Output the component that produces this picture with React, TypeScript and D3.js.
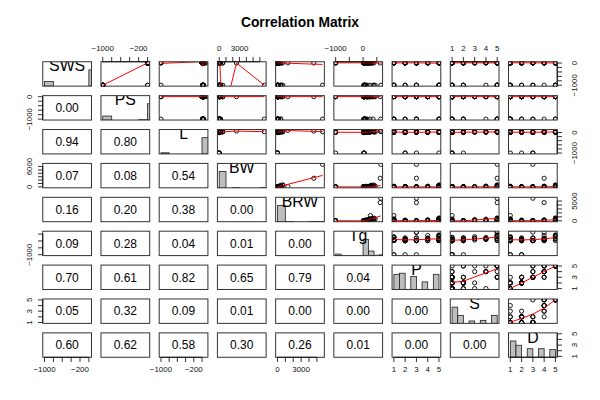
import React from "react";
import * as d3 from "d3";

const NA = -999;

const SWS = [NA,6.3,NA,NA,2.1,9.1,15.8,5.2,10.9,8.3,11.0,3.2,7.6,NA,6.3,8.6,6.6,9.5,4.8,12.0,NA,3.3,11.0,NA,4.7,NA,10.4,7.4,2.1,NA,NA,7.7,17.9,6.1,8.2,8.4,11.9,10.8,13.8,14.3,NA,15.2,10.0,11.9,6.5,7.5,NA,10.6,7.4,8.4,5.7,4.9,NA,3.2,NA,8.1,11.0,4.9,13.2,9.7,12.8,NA];
const PS = [NA,2.0,NA,NA,1.8,0.7,3.9,1.0,3.6,1.4,1.5,0.7,2.7,NA,2.1,0.0,4.1,1.2,1.3,6.1,0.3,0.5,3.4,NA,1.5,NA,3.4,0.8,0.8,NA,NA,1.4,2.0,1.9,2.4,2.8,1.3,2.0,5.6,3.1,1.0,1.8,0.9,1.8,1.9,0.9,NA,2.6,2.4,1.2,0.9,0.5,NA,0.6,NA,2.2,2.3,0.5,2.6,0.6,6.6,NA];
const L = [38.6,4.5,14.0,NA,69.0,27.0,19.0,30.4,28.0,50.0,7.0,30.0,NA,40.0,3.5,50.0,6.0,10.4,34.0,7.0,28.0,20.0,3.9,39.3,41.0,16.2,9.0,7.6,46.0,22.4,16.3,2.6,24.0,100.0,NA,NA,3.2,2.0,5.0,6.5,23.6,12.0,20.2,13.0,27.0,18.0,13.7,4.7,9.8,29.0,7.0,6.0,17.0,20.0,12.7,3.5,4.5,7.5,2.3,24.0,3.0,13.0];
const BW = [6654,1.0,3.385,0.92,2547,10.55,0.023,160,3.3,52.16,0.425,465,0.55,187.1,0.075,3.0,0.785,0.2,1.41,60,529,27.66,0.12,207,85,36.33,0.101,1.04,521,100,35,0.005,0.01,62,0.122,1.35,0.023,0.048,1.7,3.5,250,0.48,10,1.62,192,2.5,4.288,0.28,4.235,6.8,0.75,3.6,14.83,55.5,1.4,0.06,0.9,2.0,0.104,4.19,3.5,4.0];
const BRW = [5712,6.6,44.5,5.7,4603,179.5,0.3,169,25.6,440,6.4,423,2.4,419,1.2,25,3.5,5.0,17.5,81,680,115,1.0,406,325,119.5,4.0,5.5,655,157,56,0.14,0.25,1320,3.0,8.1,0.4,0.33,6.3,10.8,490,15.5,115,11.4,180,12.1,39.2,1.9,50.4,179,12.3,21,98.2,175,12.5,1.0,2.6,12.3,2.5,58,3.9,17];
const Tg = [645,42,60,25,624,180,35,392,63,230,112,281,NA,365,42,28,42,120,NA,NA,400,148,16,252,310,63,28,68,336,100,33,21.5,50,267,30,45,19,30,12,120,440,140,170,17,115,31,63,21,52,164,225,225,150,151,90,NA,60,200,46,210,14,38];
const P = [3,3,1,5,3,4,1,4,1,1,5,5,2,5,1,2,2,2,1,1,5,5,3,1,1,1,5,5,5,1,3,5,1,1,2,3,4,4,2,2,5,2,4,2,4,5,2,3,1,2,2,3,5,5,2,3,2,3,3,4,2,3];
const S = [5,1,1,2,5,4,1,5,2,1,4,5,1,5,1,2,2,2,2,1,5,5,1,4,3,1,1,3,5,1,5,2,1,1,1,1,1,1,1,1,5,2,4,1,4,5,2,1,1,3,2,2,5,5,2,1,1,1,2,3,1,1];
const D = [3,3,1,3,4,4,1,4,1,1,4,5,2,5,1,2,2,2,1,1,5,5,2,1,1,1,3,4,5,1,4,4,1,1,1,3,3,3,1,1,5,2,4,2,4,5,2,3,1,2,2,3,5,5,2,2,2,3,2,4,1,1];

const LABELS = ["SWS", "PS", "L", "BW", "BRW", "Tg", "P", "S", "D"];
const COLUMNS = [SWS, PS, L, BW, BRW, Tg, P, S, D];

const TICKS = [
  [-1000, -800, -600, -400, -200, 0],
  [-1000, -800, -600, -400, -200, 0],
  [-1000, -800, -600, -400, -200, 0],
  [0, 1000, 2000, 3000, 4000, 5000, 6000],
  [0, 1000, 2000, 3000, 4000, 5000],
  [-1000, -500, 0, 500],
  [1, 2, 3, 4, 5],
  [1, 2, 3, 4, 5],
  [1, 2, 3, 4, 5],
];

const TOP_LABELS: Record<number, number[]> = { 1: [-1000, -200], 3: [0, 3000], 5: [-1000, 0], 7: [1, 2, 3, 4, 5] };
const BOTTOM_LABELS: Record<number, number[]> = { 0: [-1000, -200], 2: [-1000, -200], 4: [0, 3000], 6: [1, 2, 3, 4, 5], 8: [1, 2, 3, 4, 5] };
const LEFT_LABELS: Record<number, number[]> = { 1: [-1000, 0], 3: [0, 6000], 5: [-1000], 7: [1, 3, 5] };
const RIGHT_LABELS: Record<number, number[]> = { 0: [-1000, 0], 2: [-1000, 0], 4: [0, 5000], 6: [1, 3, 5], 8: [1, 3, 5] };

const PVALUES: string[][] = [
  [],
  ["0.00"],
  ["0.94", "0.80"],
  ["0.07", "0.08", "0.54"],
  ["0.16", "0.20", "0.38", "0.00"],
  ["0.09", "0.28", "0.04", "0.01", "0.00"],
  ["0.70", "0.61", "0.82", "0.65", "0.79", "0.04"],
  ["0.05", "0.32", "0.09", "0.01", "0.00", "0.00", "0.00"],
  ["0.60", "0.62", "0.58", "0.30", "0.26", "0.01", "0.00", "0.00"],
];

const TITLE = "Correlation Matrix";

// layout
const LEFT0 = 42.75;
const TOP0 = 61.75;
const PITCH_X = 58.22;
const PITCH_Y = 33.89;
const PW = 48.72;
const PH = 24.39;
const FONT = "Liberation Sans, Arial, Helvetica, sans-serif";

function fmt(v: number) {
  return v < 0 ? "\u2212" + Math.abs(v) : String(v);
}

function extDomain(v: number[]): [number, number] {
  const [a, b] = d3.extent(v) as [number, number];
  const d = (b - a) * 0.04;
  return [a - d, b + d];
}

function rHist(v: number[]) {
  const [mn, mx] = d3.extent(v) as [number, number];
  const step = d3.tickStep(mn, mx, 7);
  const lo = Math.floor(mn / step + 1e-9) * step;
  const hi = Math.ceil(mx / step - 1e-9) * step;
  const nb = Math.round((hi - lo) / step);
  const counts = new Array(nb).fill(0);
  for (const x of v) {
    let k = Math.ceil((x - lo) / step - 1e-9) - 1;
    if (k < 0) k = 0;
    if (k >= nb) k = nb - 1;
    counts[k]++;
  }
  return counts.map((c, k) => ({ x0: lo + k * step, x1: lo + (k + 1) * step, c }));
}

function lowess(xIn: number[], yIn: number[], f = 2 / 3, nsteps = 3): [number, number][] {
  const n = xIn.length;
  const ord = d3.range(n).sort((a, b) => xIn[a] - xIn[b]);
  const x = [0, ...ord.map((i) => xIn[i])];
  const y = [0, ...ord.map((i) => yIn[i])];
  if (n < 2) return [[x[1], y[1]]];
  const ys = new Array(n + 1).fill(0);
  const rw = new Array(n + 1).fill(0);
  const res = new Array(n + 1).fill(0);
  const delta = 0.01 * (x[n] - x[1]);
  const ns = Math.max(2, Math.min(n, Math.floor(f * n + 1e-7)));

  function lowest(xs: number, nleft: number, nright: number, userw: boolean): [number, boolean] {
    const w = res;
    const range = x[n] - x[1];
    const h = Math.max(xs - x[nleft], x[nright] - xs);
    const h9 = 0.999 * h;
    const h1 = 0.001 * h;
    let a = 0;
    let j = nleft;
    while (j <= n) {
      w[j] = 0;
      const r = Math.abs(x[j] - xs);
      if (r <= h9) {
        if (r <= h1) w[j] = 1;
        else w[j] = Math.pow(1 - Math.pow(r / h, 3), 3);
        if (userw) w[j] *= rw[j];
        a += w[j];
      } else if (x[j] > xs) break;
      j++;
    }
    const nrt = j - 1;
    if (a <= 0) return [0, false];
    for (j = nleft; j <= nrt; j++) w[j] /= a;
    if (h > 0) {
      a = 0;
      for (j = nleft; j <= nrt; j++) a += w[j] * x[j];
      let b = xs - a;
      let c = 0;
      for (j = nleft; j <= nrt; j++) c += w[j] * (x[j] - a) * (x[j] - a);
      if (Math.sqrt(c) > 0.001 * range) {
        b /= c;
        for (j = nleft; j <= nrt; j++) w[j] *= b * (x[j] - a) + 1;
      }
    }
    let out = 0;
    for (j = nleft; j <= nrt; j++) out += w[j] * y[j];
    return [out, true];
  }

  let iter = 1;
  while (iter <= nsteps + 1) {
    let nleft = 1;
    let nright = ns;
    let last = 0;
    let i = 1;
    for (;;) {
      if (nright < n) {
        const d1 = x[i] - x[nleft];
        const d2 = x[nright + 1] - x[i];
        if (d1 > d2) {
          nleft++;
          nright++;
          continue;
        }
      }
      const [v, ok] = lowest(x[i], nleft, nright, iter > 1);
      ys[i] = ok ? v : y[i];
      if (last < i - 1) {
        const denom = x[i] - x[last];
        for (let j = last + 1; j < i; j++) {
          const alpha = (x[j] - x[last]) / denom;
          ys[j] = alpha * ys[i] + (1 - alpha) * ys[last];
        }
      }
      last = i;
      const cut = x[last] + delta;
      for (i = last + 1; i <= n; i++) {
        if (x[i] > cut) break;
        if (x[i] === x[last]) {
          ys[i] = ys[last];
          last = i;
        }
      }
      i = Math.max(last + 1, i - 1);
      if (last >= n) break;
    }
    for (let k = 1; k <= n; k++) res[k] = y[k] - ys[k];
    let sc = 0;
    for (let k = 1; k <= n; k++) sc += Math.abs(res[k]);
    sc /= n;
    if (iter > nsteps) break;
    const abs = res.slice(1).map((r) => Math.abs(r)).sort((a, b) => a - b);
    const m1 = Math.floor(n / 2);
    let cmad: number;
    if (n % 2 === 0) {
      const m2 = n - m1 - 1;
      cmad = 3 * (abs[m1] + abs[m2]);
    } else cmad = 6 * abs[m1];
    if (cmad < 1e-7 * sc) break;
    const c9 = 0.999 * cmad;
    const c1 = 0.001 * cmad;
    for (let k = 1; k <= n; k++) {
      const r = Math.abs(res[k]);
      rw[k] = r <= c1 ? 1 : r <= c9 ? Math.pow(1 - Math.pow(r / cmad, 2), 2) : 0;
    }
    iter++;
  }
  return x.slice(1).map((xv, k) => [xv, ys[k + 1]] as [number, number]);
}

function Panel({ i, j }: { i: number; j: number }) {
  const left = LEFT0 + j * PITCH_X;
  const top = TOP0 + i * PITCH_Y;
  const xv = COLUMNS[j];
  const yv = COLUMNS[i];
  const xs = d3.scaleLinear().domain(extDomain(xv)).range([left, left + PW]);
  const ys = d3.scaleLinear().domain(extDomain(yv)).range([top + PH, top]);
  const clipId = `clip-${i}-${j}`;
  const content: React.ReactNode[] = [];

  if (i === j) {
    const bins = rHist(xv);
    const maxC = d3.max(bins, (b) => b.c) as number;
    const hy = d3.scaleLinear().domain([0, 1.5]).range([top + PH, top]);
    bins.forEach((b, k) => {
      if (b.c === 0) return;
      const x0 = xs(b.x0);
      const x1 = xs(b.x1);
      const y1 = hy(b.c / maxC);
      content.push(
        <rect key={"b" + k} x={x0} y={y1} width={x1 - x0} height={top + PH - y1} fill="#bebebe" stroke="#222" strokeWidth={0.8} />
      );
    });
    content.push(
      <text key="lab" x={left + PW / 2} y={top + PH * (1 - 0.8333) + 0.358 * 15.84} fontSize={15.84} textAnchor="middle" fontFamily={FONT} fill="#000">
        {LABELS[i]}
      </text>
    );
  } else if (i < j) {
    xv.forEach((xx, k) => {
      content.push(<circle key={"p" + k} cx={xs(xx)} cy={ys(yv[k])} r={2.1} fill="none" stroke="#000" strokeWidth={0.9} />);
    });
    const sm = lowess(xv, yv);
    const line = d3.line<[number, number]>().x((d) => xs(d[0])).y((d) => ys(d[1]));
    content.push(<path key="sm" d={line(sm) || ""} fill="none" stroke="#ff0000" strokeWidth={1} />);
  } else {
    content.push(
      <text key="pv" x={left + PW / 2} y={top + PH / 2 + 0.358 * 12} fontSize={12} textAnchor="middle" fontFamily={FONT} fill="#000">
        {PVALUES[i][j]}
      </text>
    );
  }

  const axes: React.ReactNode[] = [];
  const tickLen = 4.75;
  const axFont = 7.92;
  if (i === 0 && TOP_LABELS[j]) {
    const t = TICKS[j];
    const y0 = top;
    axes.push(<line key="ta" x1={xs(t[0])} x2={xs(t[t.length - 1])} y1={y0} y2={y0} stroke="#000" strokeWidth={0.8} />);
    t.forEach((v, k) => axes.push(<line key={"tt" + k} x1={xs(v)} x2={xs(v)} y1={y0} y2={y0 - tickLen} stroke="#000" strokeWidth={0.8} />));
    TOP_LABELS[j].forEach((v, k) =>
      axes.push(
        <text key={"tl" + k} x={xs(v)} y={y0 - 11.2} fontSize={axFont} textAnchor="middle" fontFamily={FONT} fill="#111">
          {fmt(v)}
        </text>
      )
    );
  }
  if (i === 8 && BOTTOM_LABELS[j]) {
    const t = TICKS[j];
    const y0 = top + PH;
    axes.push(<line key="ba" x1={xs(t[0])} x2={xs(t[t.length - 1])} y1={y0} y2={y0} stroke="#000" strokeWidth={0.8} />);
    t.forEach((v, k) => axes.push(<line key={"bt" + k} x1={xs(v)} x2={xs(v)} y1={y0} y2={y0 + tickLen} stroke="#000" strokeWidth={0.8} />));
    BOTTOM_LABELS[j].forEach((v, k) =>
      axes.push(
        <text key={"bl" + k} x={xs(v)} y={y0 + 15.2} fontSize={axFont} textAnchor="middle" fontFamily={FONT} fill="#111">
          {fmt(v)}
        </text>
      )
    );
  }
  if (j === 0 && LEFT_LABELS[i]) {
    const t = TICKS[i];
    const x0 = left;
    axes.push(<line key="la" x1={x0} x2={x0} y1={ys(t[0])} y2={ys(t[t.length - 1])} stroke="#000" strokeWidth={0.8} />);
    t.forEach((v, k) => axes.push(<line key={"lt" + k} x1={x0} x2={x0 - tickLen} y1={ys(v)} y2={ys(v)} stroke="#000" strokeWidth={0.8} />));
    LEFT_LABELS[i].forEach((v, k) => {
      const lx = x0 - 10.8;
      const ly = ys(v);
      axes.push(
        <text key={"ll" + k} x={lx} y={ly} transform={`rotate(-90 ${lx} ${ly})`} fontSize={axFont} textAnchor="middle" fontFamily={FONT} fill="#111">
          {fmt(v)}
        </text>
      );
    });
  }
  if (j === 8 && RIGHT_LABELS[i]) {
    const t = TICKS[i];
    const x0 = left + PW;
    axes.push(<line key="ra" x1={x0} x2={x0} y1={ys(t[0])} y2={ys(t[t.length - 1])} stroke="#000" strokeWidth={0.8} />);
    t.forEach((v, k) => axes.push(<line key={"rt" + k} x1={x0} x2={x0 + tickLen} y1={ys(v)} y2={ys(v)} stroke="#000" strokeWidth={0.8} />));
    RIGHT_LABELS[i].forEach((v, k) => {
      const lx = x0 + 20;
      const ly = ys(v);
      axes.push(
        <text key={"rl" + k} x={lx} y={ly} transform={`rotate(-90 ${lx} ${ly})`} fontSize={axFont} textAnchor="middle" fontFamily={FONT} fill="#111">
          {fmt(v)}
        </text>
      );
    });
  }

  return (
    <g>
      <clipPath id={clipId}>
        <rect x={left} y={top} width={PW} height={PH} />
      </clipPath>
      <g clipPath={`url(#${clipId})`}>{content}</g>
      <rect x={left} y={top} width={PW} height={PH} fill="none" stroke="#333" strokeWidth={1} />
      {axes}
    </g>
  );
}

export default function App() {
  const cells: React.ReactNode[] = [];
  for (let i = 0; i < 9; i++) for (let j = 0; j < 9; j++) cells.push(<Panel key={`${i}-${j}`} i={i} j={j} />);
  return (
    <svg width={600} height={400} style={{ position: "absolute", left: 0, top: 0, background: "#fff" }}>
      <rect x={0} y={0} width={600} height={400} fill="#fff" />
      <text x={300} y={26.5} fontSize={13.8} fontWeight="bold" textAnchor="middle" fontFamily={FONT} fill="#000">
        {TITLE}
      </text>
      {cells}
    </svg>
  );
}
